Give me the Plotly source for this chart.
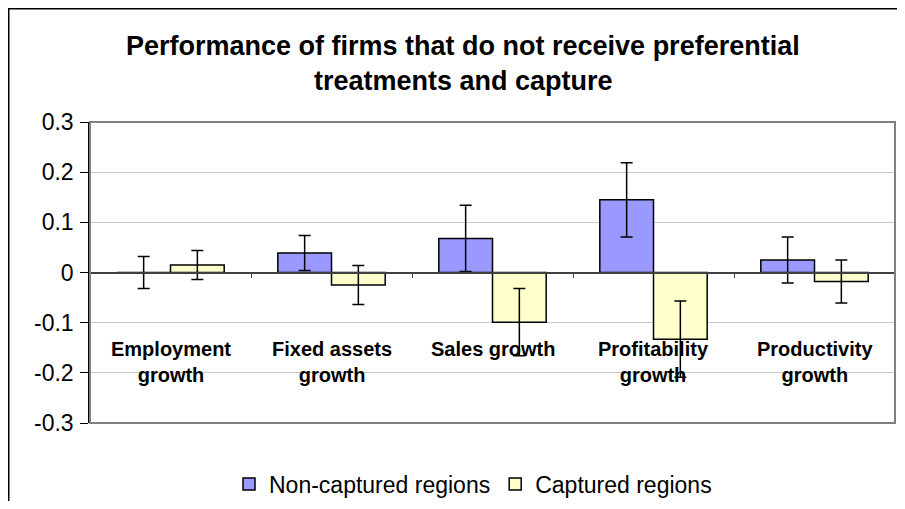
import plotly.graph_objects as go

categories = ["Employment growth", "Fixed assets growth", "Sales growth",
              "Profitability growth", "Productivity growth"]
category_labels = ["Employment<br>growth", "Fixed assets<br>growth", "Sales growth",
                   "Profitability<br>growth", "Productivity<br>growth"]
non_captured = [0.0, 0.039, 0.068, 0.145, 0.025]
non_captured_err = [0.032, 0.035, 0.066, 0.074, 0.046]
captured = [0.015, -0.025, -0.099, -0.133, -0.018]
captured_err = [0.029, 0.039, 0.067, 0.076, 0.043]
tick_vals = [0.3, 0.2, 0.1, 0, -0.1, -0.2, -0.3]
tick_text = ["0.3", "0.2", "0.1", "0", "-0.1", "-0.2", "-0.3"]
title_lines = ["Performance of firms that do not receive preferential",
               "treatments and capture"]

FONT = "Liberation Sans, Arial, sans-serif"

fig = go.Figure()
fig.add_trace(go.Bar(
    name="Non-captured regions", x=categories, y=non_captured,
    marker=dict(color="#9999FF", line=dict(color="black", width=1.5)),
    error_y=dict(type="data", array=non_captured_err, visible=True,
                 color="black", thickness=1.5, width=6),
))
fig.add_trace(go.Bar(
    name="Captured regions", x=categories, y=captured,
    marker=dict(color="#FFFFCC", line=dict(color="black", width=1.5)),
    error_y=dict(type="data", array=captured_err, visible=True,
                 color="black", thickness=1.5, width=6),
))

# page body margin offsets the figure by 8px inside the 905x509 window;
# keep the figure inside the page body so nothing is clipped or scrolled
OFF = 8
W, H = 905 - 2 * OFF, 509 - 2 * OFF
# plot area in window pixels: x 90..895, y 122..423
L = 90 - OFF
T = 122 - OFF
R = W - (895 - OFF)
B = H - (423 - OFF)
pw, ph = W - L - R, H - T - B


def px_x(xw):
    return (xw - OFF - L) / pw


def px_y(yw):
    return (H - B - (yw - OFF)) / ph


annotations = []
annotations.append(dict(text=title_lines[0], x=px_x(463), y=px_y(46), xref="paper", yref="paper",
                        showarrow=False, xanchor="center", yanchor="middle",
                        font=dict(family=FONT, size=27, color="black", weight="bold")))
annotations.append(dict(text=title_lines[1], x=px_x(463), y=px_y(81), xref="paper", yref="paper",
                        showarrow=False, xanchor="center", yanchor="middle",
                        font=dict(family=FONT, size=27, color="black", weight="bold")))
for c, lab in zip(categories, category_labels):
    ny = -0.1775 if "<br>" in lab else -0.152
    annotations.append(dict(text=lab, x=c, y=ny, xref="x", yref="y", showarrow=False,
                            xanchor="center", yanchor="middle",
                            font=dict(family=FONT, size=20, color="black", weight="bold")))

shapes = [
    # outer chart border (cropped at right/bottom)
    dict(type="rect", xref="paper", yref="paper", x0=px_x(8.75), y0=px_y(560), x1=px_x(960), y1=px_y(8.75),
         line=dict(color="black", width=1.5), fillcolor="rgba(0,0,0,0)", layer="below"),
    # plot area border
    dict(type="rect", xref="paper", yref="paper", x0=0, y0=0, x1=1, y1=1,
         line=dict(color="#808080", width=2), fillcolor="rgba(0,0,0,0)", layer="above"),
]

fig.update_layout(
    width=W, height=H,
    margin=dict(l=L, r=R, t=T, b=B, pad=0, autoexpand=False),
    paper_bgcolor="white", plot_bgcolor="white",
    barmode="group", bargap=0.333, bargroupgap=0,
    font=dict(family=FONT, color="black"),
    showlegend=True,
    legend=dict(orientation="h", x=px_x(473), y=px_y(484), xanchor="center", yanchor="middle",
                font=dict(family=FONT, size=23, color="black"), itemwidth=30,
                bgcolor="rgba(0,0,0,0)", tracegroupgap=0),
    annotations=annotations,
    shapes=shapes,
    xaxis=dict(anchor="free", position=0.5, showline=True, linecolor="#404040", linewidth=1.5,
               ticks="outside", tickson="boundaries", ticklen=5, tickcolor="#404040",
               showticklabels=False, showgrid=False, zeroline=False),
    yaxis=dict(range=[-0.3, 0.3], tickvals=tick_vals, ticktext=tick_text,
               showline=True, linecolor="black", linewidth=1.5,
               ticks="outside", ticklen=8, tickcolor="black", tickwidth=1,
               showgrid=True, gridcolor="#C8C8C8", gridwidth=1, zeroline=False,
               ticklabelstandoff=2,
               tickfont=dict(family=FONT, size=23, color="black")),
)

fig.write_html("out.html")
